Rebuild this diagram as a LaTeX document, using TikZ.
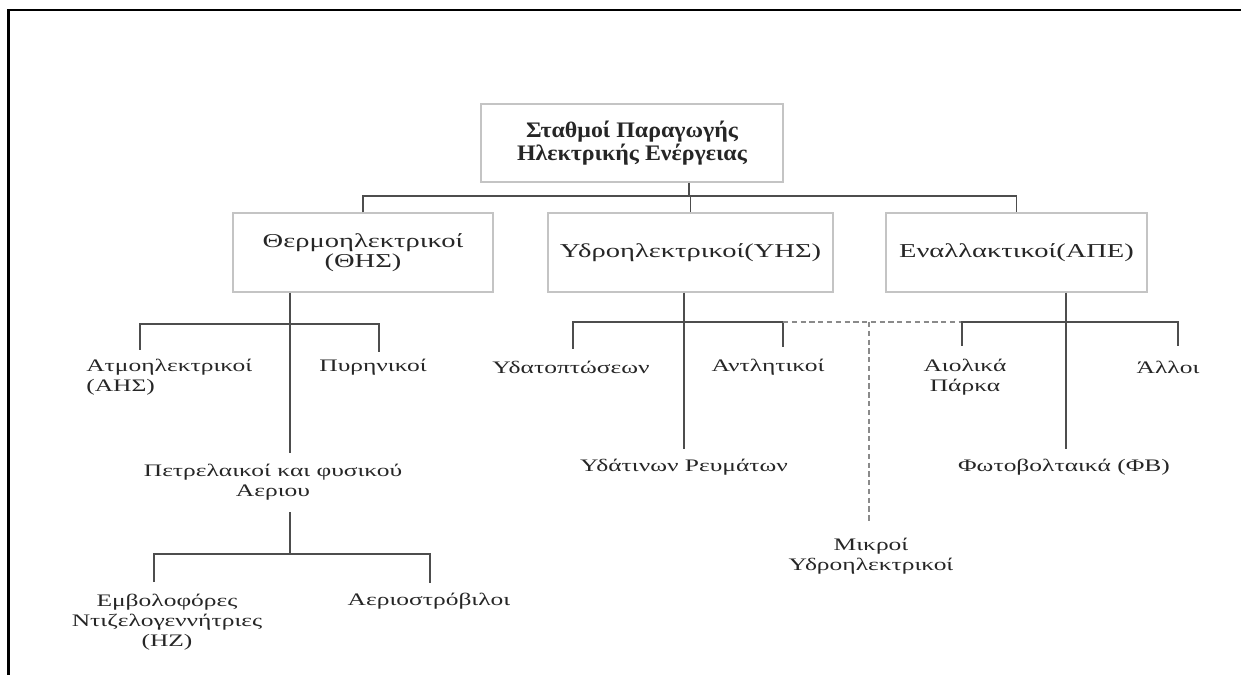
\documentclass[tikz,border=0pt]{standalone}
\usepackage{fontspec}
\setmainfont{Liberation Serif}[FakeStretch=1.45]
\newfontfamily\titlefont{Liberation Serif}[FakeStretch=1.08]
\definecolor{txt}{HTML}{262626}
\definecolor{connc}{HTML}{4D4D4D}
\definecolor{boxc}{HTML}{C4C4C4}
\definecolor{dashc}{HTML}{8A8A8A}
\begin{document}
\begin{tikzpicture}[x=0.02cm,y=-0.02cm]
\tikzset{
  box/.style={draw=boxc, line width=0.8pt, align=center, text=txt, inner sep=0pt,
    font=\fontsize{11.2}{11.4}\selectfont, minimum height=1.58cm},
  lab/.style={align=center, text=txt, inner sep=0pt, font=\fontsize{10}{11.4}\selectfont},
  conn/.style={draw=connc, line width=0.85pt},
  dconn/.style={draw=dashc, line width=0.7pt, dash pattern=on 3pt off 2pt},
  frame/.style={draw=black, line width=1.2pt}
}
\useasboundingbox (0,0) rectangle (1241,675);
\draw[frame] (8.5,675) -- (8.5,10) -- (1241,10);

% boxes
\node[box, minimum width=6.04cm, minimum height=1.56cm,
  font=\titlefont\bfseries\fontsize{12.6}{12.8}\selectfont] (top) at (632,143)
  {Σταθμοί Παραγωγής\\Ηλεκτρικής Ενέργειας};
\node[box, minimum width=5.2cm] (th) at (363,252.5) {Θερμοηλεκτρικοί\\(ΘΗΣ)};
\node[box, minimum width=5.7cm] (hy) at (690.5,252.5) {Υδροηλεκτρικοί(ΥΗΣ)};
\node[box, minimum width=5.22cm] (al) at (1016.5,252.5) {Εναλλακτικοί(ΑΠΕ)};

% labels
\node[lab, align=left, anchor=west] (atmo) at (86,377) {Ατμοηλεκτρικοί\\(ΑΗΣ)};
\node[lab] (pyr) at (373,367) {Πυρηνικοί};
\node[lab] (petr) at (273,482) {Πετρελαικοί και φυσικού\\Αεριου};
\node[lab] (emb) at (167,622) {Εμβολοφόρες\\Ντιζελογεννήτριες\\(ΗΖ)};
\node[lab] (aer) at (429,601) {Αεριοστρόβιλοι};
\node[lab] (ydat) at (571,367) {Υδατοπτώσεων};
\node[lab] (antl) at (768,367) {Αντλητικοί};
\node[lab] (ydrev) at (684,467) {Υδάτινων Ρευμάτων};
\node[lab] (mikr) at (871,556) {Μικροί\\Υδροηλεκτρικοί};
\node[lab] (aiol) at (965,377) {Αιολικά\\Πάρκα};
\node[lab] (allo) at (1168,367) {Άλλοι};
\node[lab] (fv) at (1064,467) {Φωτοβολταικά (ΦΒ)};

% junction points
\coordinate (bar) at (689,196);
\coordinate (thj) at (290,324);
\coordinate (petrj) at (290,554);
\coordinate (hyj) at (684,322);
\coordinate (alj) at (1066,322);
\coordinate (mj) at (869,322);

% top level
\draw[conn] (top.south -| bar) -- (bar);
\draw[conn] (th.north) |- (bar) -| (al.north);
\draw[conn] (bar) -| (hy.north);

% thermal
\draw[conn] (th.south -| thj) -- (290,453);
\draw[conn] (140,350) |- (thj) -| (379,352);
\draw[conn] (290,512) -- (petrj);
\draw[conn] (154,582) |- (petrj) -| (430,583);

% hydro
\draw[conn] (hy.south -| hyj) -- (684,449);
\draw[conn] (573,349) |- (hyj) -| (783,347);
\draw[dconn] (783,322) -- (962,322);
\draw[dconn] (mj) -- (869,524);

% alternative
\draw[conn] (al.south -| alj) -- (1066,449);
\draw[conn] (962,346) |- (alj) -| (1178,346);
\end{tikzpicture}
\end{document}
